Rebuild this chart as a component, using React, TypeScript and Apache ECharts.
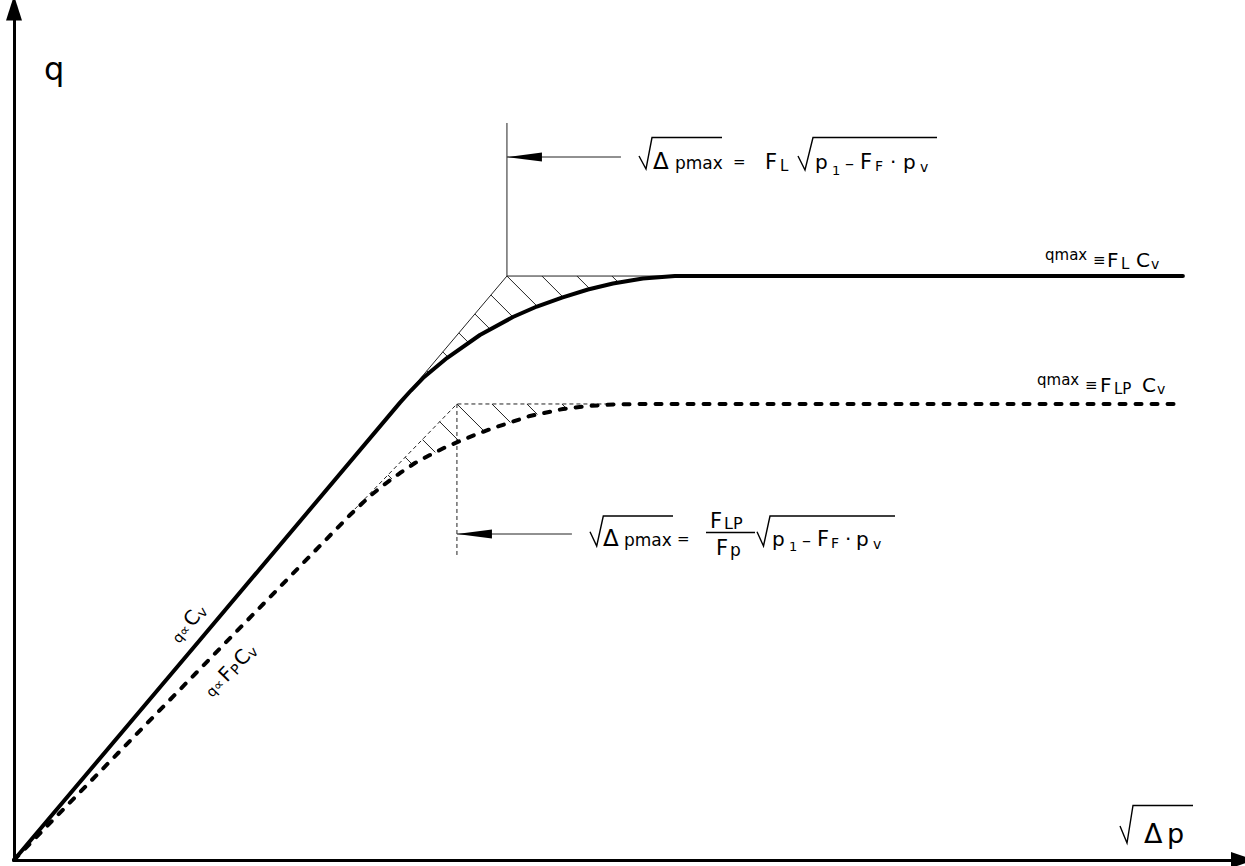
import React, { useEffect, useRef } from "react";
import * as echarts from "echarts";

// ---- Data (units: x = √Δp, y = q; arbitrary linear scales) ----
const solidX = [0, 15.28, 31.72, 32.62, 33.61, 35.58, 38.29, 41.0, 42.97, 45.03, 47.17, 49.22, 51.68, 54.31, 96.06];
const solidY = [0, 26.19, 54.45, 55.89, 57.38, 59.76, 62.5, 64.64, 65.89, 66.96, 67.92, 68.63, 69.23, 69.52, 69.52];
const dashX = [0, 15.28, 27.61, 29.25, 30.48, 31.72, 32.95, 34.18, 35.41, 36.65, 38.04, 39.28, 40.51, 42.4, 45.11, 47.33, 49.38, 52.26, 96.06];
const dashY = [0, 22.74, 41.07, 43.33, 44.76, 46.07, 47.26, 48.21, 49.11, 49.88, 50.71, 51.37, 51.96, 52.86, 53.69, 54.07, 54.24, 54.29, 54.29];

// axis extents
const xMax = 101;
const yMax = 101.43;

// ideal (asymptotic) corners and where the curves leave the straight line
const solidCorner = [40.51, 69.52];
const dashCorner = [36.4, 54.29];
const solidDepart = [31.72, 54.45];
const dashDepart = [27.61, 41.18];
const solidGuideEndX = 54.31;
const dashGuideEndX = 49.38;
const solidLeaderTopY = 87.74;
const dashLeaderBottomY = 35.95;
// arrows: [tipX, tailX, y]
const arrowTop = [40.51, 49.88, 83.69];
const arrowBottom = [36.4, 45.85, 38.81];

const FONT = '"DejaVu Sans", "Noto Sans", sans-serif';

const zip = (xs: number[], ys: number[]) => xs.map((x, i) => [x, ys[i]]);

function T(x: number, base: number, text: string, size: number): any {
  return {
    type: "text",
    x,
    y: base - 0.35 * size,
    silent: true,
    style: {
      text,
      fontSize: size,
      fontFamily: FONT,
      fontWeight: "normal",
      fill: "#000",
      align: "left",
      verticalAlign: "middle",
      textAlign: "left",
      textVerticalAlign: "middle",
    },
  };
}

function radical(points: number[][]): any {
  return {
    type: "polyline",
    silent: true,
    shape: { points },
    style: { stroke: "#000", lineWidth: 1.4, fill: null },
  };
}

function hit(poly: number[][], c: number): number[] | null {
  for (let i = 0; i < poly.length - 1; i++) {
    const [px, py] = poly[i];
    const [qx, qy] = poly[i + 1];
    const dx = qx - px;
    const dy = qy - py;
    const den = dy - dx;
    if (Math.abs(den) < 1e-9) continue;
    const s = (c - (py - px)) / den;
    if (s >= 0 && s <= 1) return [px + s * dx, py + s * dy];
  }
  return null;
}

const regions = [
  { xs: solidX, ys: solidY, depart: solidDepart, corner: solidCorner, endX: solidGuideEndX },
  { xs: dashX, ys: dashY, depart: dashDepart, corner: dashCorner, endX: dashGuideEndX },
];

export default function App() {
  const ref = useRef<HTMLDivElement>(null);

  useEffect(() => {
    if (!ref.current) return;
    const chart = echarts.init(ref.current, null, { renderer: "svg" });

    const thin = { color: "#222", width: 1 };
    const thinDash = { color: "#222", width: 1, type: [4, 3] };

    const graphic: any[] = [
      // y axis title
      T(44, 80, "q", 32),
      // x axis title √Δp
      radical([[1120, 826], [1127, 843], [1133, 805.5], [1193, 805.5]]),
      T(1144, 843, "Δ", 27),
      T(1167, 843, "p", 27),

      // top formula: √Δpmax = F_L √(p1 − F_F · p_v)
      radical([[639, 156], [646, 169], [652, 137.5], [722, 137.5]]),
      T(653, 169, "Δ", 23),
      T(675, 169, "pmax", 17),
      T(733, 167, "=", 15),
      T(765, 169, "F", 21),
      T(780, 171, "L", 15),
      radical([[798, 156], [805, 170], [813, 137.5], [937, 137.5]]),
      T(815, 169, "p", 20),
      T(832, 175, "1", 13),
      T(845, 169, "–", 18),
      T(860, 169, "F", 21),
      T(875, 171, "F", 14),
      T(890, 169, "·", 20),
      T(903, 169, "p", 20),
      T(920, 172, "v", 14),

      // bottom formula: √Δpmax = F_LP/F_p √(p1 − F_F · p_v)
      radical([[590, 531.7], [596.7, 546], [603.3, 516], [673, 516]]),
      T(603, 546, "Δ", 23),
      T(624, 546, "pmax", 17),
      T(677, 544, "=", 15),
      T(710, 528, "F", 21),
      T(724, 529, "LP", 16),
      {
        type: "line",
        silent: true,
        shape: { x1: 706, y1: 532.5, x2: 755, y2: 532.5 },
        style: { stroke: "#000", lineWidth: 1.4 },
      },
      T(716, 555, "F", 21),
      T(730, 556, "p", 17),
      radical([[757, 531.7], [763.5, 546], [770, 516], [895, 516]]),
      T(772, 546, "p", 20),
      T(789, 551, "1", 13),
      T(802, 546, "–", 18),
      T(817, 546, "F", 21),
      T(831, 548, "F", 14),
      T(845, 546, "·", 20),
      T(856, 546, "p", 20),
      T(873, 549, "v", 14),

      // right labels
      T(1045, 260, "qmax", 15),
      T(1093, 265, "≡", 15),
      T(1107, 267, "F", 20),
      T(1121, 269, "L", 15),
      T(1136, 267, "C", 20),
      T(1151, 269, "v", 14),

      T(1037, 385, "qmax", 15),
      T(1085, 390, "≡", 15),
      T(1100, 392, "F", 20),
      T(1114, 394, "LP", 15),
      T(1142, 392, "C", 20),
      T(1157, 394, "v", 14),

      // slanted labels
      {
        type: "group",
        x: 179,
        y: 644,
        rotation: (49.8 * Math.PI) / 180,
        children: [T(0, 0, "q∝", 14), T(21, 0, "C", 20), T(35, 2, "v", 14)],
      },
      {
        type: "group",
        x: 212,
        y: 698,
        rotation: (45.8 * Math.PI) / 180,
        children: [
          T(0, 0, "q∝", 14),
          T(21, 0, "F", 20),
          T(33, 2, "P", 14),
          T(43, 0, "C", 20),
          T(57, 2, "v", 14),
        ],
      },
    ];

    const axisCommon = {
      type: "value",
      min: 0,
      axisTick: { show: false },
      axisLabel: { show: false },
      splitLine: { show: false },
    };

    const option: any = {
      animation: false,
      backgroundColor: "#fff",
      grid: { left: 14, right: 2, top: 8, bottom: 6, containLabel: false, outerBoundsMode: "none" },
      xAxis: {
        ...axisCommon,
        max: xMax,
        axisLine: {
          show: true,
          onZero: false,
          symbol: ["none", "triangle"],
          symbolSize: [16, 24],
          lineStyle: { color: "#000", width: 3 },
        },
      },
      yAxis: {
        ...axisCommon,
        max: yMax,
        axisLine: {
          show: true,
          onZero: false,
          symbol: ["none", "triangle"],
          symbolSize: [16, 25],
          lineStyle: { color: "#000", width: 3 },
        },
      },
      series: [
        {
          type: "line",
          silent: true,
          data: zip(solidX, solidY),
          symbol: "none",
          smooth: false,
          lineStyle: { color: "#000", width: 4, cap: "round", join: "round" },
          z: 5,
        },
        {
          type: "line",
          silent: true,
          data: zip(dashX, dashY),
          symbol: "none",
          smooth: false,
          lineStyle: { color: "#000", width: 4, type: [6, 10], cap: "round", join: "round" },
          z: 5,
        },
        {
          type: "line",
          silent: true,
          symbol: "none",
          data: [solidDepart, solidCorner, [solidGuideEndX, solidCorner[1]]],
          lineStyle: thin,
        },
        {
          type: "line",
          silent: true,
          symbol: "none",
          data: [solidCorner, [solidCorner[0], solidLeaderTopY]],
          lineStyle: thin,
        },
        {
          type: "line",
          silent: true,
          symbol: "none",
          data: [dashDepart, dashCorner, [dashGuideEndX, dashCorner[1]]],
          lineStyle: thinDash,
        },
        {
          type: "line",
          silent: true,
          symbol: "none",
          data: [dashCorner, [dashCorner[0], dashLeaderBottomY]],
          lineStyle: thinDash,
        },
        {
          type: "custom",
          silent: true,
          coordinateSystem: "cartesian2d",
          data: [[0, 0], [0, 0]],
          renderItem: (params: any, api: any) => {
            const r = regions[params.dataIndex];
            const B = [r.depart, r.corner, [r.endX, r.corner[1]]].map((p) => api.coord(p));
            const C: number[][] = [];
            r.xs.forEach((x, i) => {
              if (x >= r.depart[0] - 0.01) C.push(api.coord([x, r.ys[i]]));
            });
            const c0 = B[1][1] - B[1][0];
            const spacing = 35;
            const children: any[] = [];
            for (let k = -15; k <= 15; k++) {
              const c = c0 + k * spacing;
              const a = hit(B, c);
              const b = hit(C, c);
              if (!a || !b) continue;
              if (b[1] - a[1] < 2) continue;
              children.push({
                type: "line",
                shape: { x1: a[0], y1: a[1], x2: b[0], y2: b[1] },
                style: { stroke: "#222", lineWidth: 1 },
              });
            }
            return { type: "group", children };
          },
          z: 3,
        },
        {
          type: "custom",
          silent: true,
          coordinateSystem: "cartesian2d",
          data: [arrowTop, arrowBottom],
          encode: { x: [0, 1], y: 2 },
          renderItem: (params: any, api: any) => {
            const y = api.value(2);
            const p1 = api.coord([api.value(0), y]);
            const p2 = api.coord([api.value(1), y]);
            return {
              type: "group",
              children: [
                {
                  type: "line",
                  shape: { x1: p1[0], y1: p1[1], x2: p2[0], y2: p2[1] },
                  style: { stroke: "#222", lineWidth: 1 },
                },
                {
                  type: "polygon",
                  shape: {
                    points: [
                      [p1[0], p1[1]],
                      [p1[0] + 35, p1[1] - 4.5],
                      [p1[0] + 35, p1[1] + 4.5],
                    ],
                  },
                  style: { fill: "#000" },
                },
              ],
            };
          },
          z: 4,
        },
      ],
      graphic,
    };

    chart.setOption(option);
    return () => chart.dispose();
  }, []);

  return (
    <div
      ref={ref}
      style={{ position: "fixed", left: 0, top: 0, width: 1245, height: 866, background: "#fff" }}
    />
  );
}
